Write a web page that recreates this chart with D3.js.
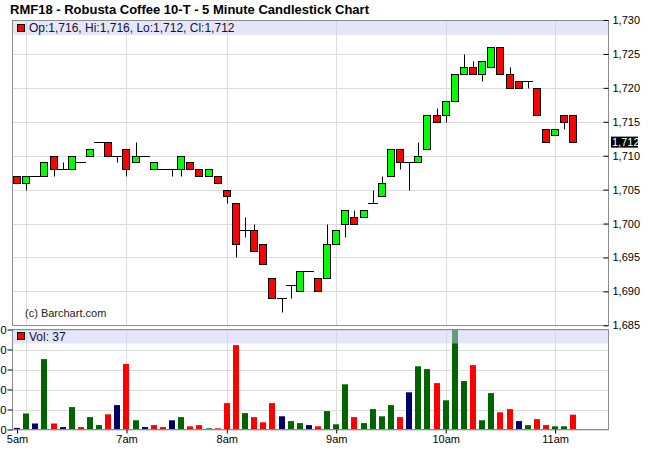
<!DOCTYPE html>
<html><head><meta charset="utf-8">
<script src="https://cdn.jsdelivr.net/npm/d3@7"></script>
<style>
body{margin:0;background:#fff;}
svg{display:block;font-family:Arial,"Liberation Sans",sans-serif;}
</style>
</head><body>
<svg id="chart" width="650" height="470"></svg>
<script>
// ---- data (5-minute bars) ----
const opens  = [1707,1706,1707,1707,1710,1708,1708,1709,1710,1712,1712,1710,1711,1709,1710,1708,1708,1708,1708,1709,1708,1707,1707,
                1705,1703,1699,1699,1697,1692,1689,1691,1690,1693,1692,1692,1697,1700,1701,1701,1703,1704,1707,1711,1709,1709,1711,
                1716,1716,1718,1722,1723,1722,1723,1726,1722,1721,1721,1720,1714,1713,1716,1716];
const highs  = [1707,1707,1707,1709,1710,1709,1710,1709,1711,1712,1712,1710,1711,1712,1710,1709,1708,1708,1710,1709,1708,1708,1707,
                1705,1703,1701,1700,1697,1692,1689,1691,1693,1693,1692,1700,1699,1702,1702,1702,1705,1707,1711,1711,1709,1712,1716,
                1717,1718,1722,1725,1724,1724,1726,1726,1723,1721,1721,1720,1714,1714,1716,1716];
const lows   = [1706,1705,1707,1707,1707,1708,1708,1709,1710,1712,1710,1709,1707,1709,1710,1708,1708,1707,1707,1708,1707,1707,1706,
                1703,1695,1698,1696,1694,1689,1687,1689,1690,1693,1690,1692,1697,1698,1700,1701,1703,1704,1707,1708,1705,1709,1711,
                1715,1715,1718,1722,1722,1721,1723,1722,1720,1720,1720,1716,1712,1713,1714,1712];
const closes = [1706,1707,1707,1709,1708,1708,1710,1709,1711,1712,1710,1710,1708,1710,1710,1709,1708,1708,1710,1708,1707,1708,1706,
                1704,1697,1699,1696,1694,1689,1689,1691,1693,1693,1690,1697,1699,1702,1700,1702,1703,1706,1711,1709,1709,1710,1716,
                1715,1718,1722,1723,1722,1724,1726,1722,1720,1720,1721,1716,1712,1714,1715,1712];
const volumes= [4,40,15,176,15,6,56,6,31,11,38,61,164,23,6,11,6,23,31,8,11,3,3,
                66,211,41,31,18,66,33,21,16,11,8,46,13,113,31,16,51,33,61,31,93,158,151,
                116,73,262,121,161,23,91,43,51,21,11,26,11,8,8,37];
const priceTicks = [1685,1690,1695,1700,1705,1710,1715,1720,1725,1730];
const volTicks = [0,50,100,150,200,250];
const timeLabels = ['5am','7am','8am','9am','10am','11am'];
const timeBars = [0,12,23,35,47,59];
const gridBars = [1,12,23,35,47,59];

// ---- layout ----
const L = 12.5, R = 608.5;
const pTop = 20.5, pBot = 325.5;
const vTop = 329.5, vBot = 429.5;
const svg = d3.select('#chart');
const n = closes.length;
const x = d3.scaleLinear().domain([-0.5, 64.8]).range([12.5, 608]);
const y = d3.scaleLinear().domain([1685, 1730]).range([325.3, 20]);
const yv = d3.scaleLinear().domain([0, 250]).range([vBot, vTop]);
const cx = i => Math.round(x(i));
const py = p => Math.round(y(p)) + 0.5;
const grid = '#dcdcdc';

// title
svg.append('text').attr('x', 10).attr('y', 14).attr('font-size', 13).attr('font-weight', 'bold')
  .attr('fill', '#000').text('RMF18 - Robusta Coffee 10-T - 5 Minute Candlestick Chart');

const defs = svg.append('defs');
defs.append('clipPath').attr('id', 'vclip').append('rect')
  .attr('x', L).attr('y', vTop).attr('width', R - L).attr('height', vBot - vTop);

// ---- price panel grid ----
const gP = svg.append('g');
gP.selectAll('line.h').data(priceTicks).join('line')
  .attr('x1', L).attr('x2', R).attr('y1', d => py(d)).attr('y2', d => py(d)).attr('stroke', grid);
gP.selectAll('line.v').data(gridBars).join('line')
  .attr('x1', d => cx(d) + 0.5).attr('x2', d => cx(d) + 0.5).attr('y1', pTop).attr('y2', pBot).attr('stroke', grid);

// ---- volume panel grid ----
const gV = svg.append('g');
gV.selectAll('line.h').data(volTicks).join('line')
  .attr('x1', L).attr('x2', R).attr('y1', d => Math.round(yv(d)) + 0.5).attr('y2', d => Math.round(yv(d)) + 0.5).attr('stroke', grid);
gV.selectAll('line.v').data(gridBars).join('line')
  .attr('x1', d => cx(d) + 0.5).attr('x2', d => cx(d) + 0.5).attr('y1', vTop).attr('y2', vBot).attr('stroke', grid);

// ---- candles ----
const bars = d3.range(n).map(i => ({i, o: opens[i], h: highs[i], l: lows[i], c: closes[i], v: volumes[i]}));
const gC = svg.append('g');
gC.selectAll('line.wick').data(bars).join('line')
  .attr('x1', d => cx(d.i) + 0.5).attr('x2', d => cx(d.i) + 0.5)
  .attr('y1', d => py(d.h)).attr('y2', d => py(d.l)).attr('stroke', '#000').attr('stroke-width', 1);
gC.selectAll('line.doji').data(bars.filter(d => d.o === d.c)).join('line')
  .attr('x1', d => cx(d.i) - 5).attr('x2', d => cx(d.i) + 5)
  .attr('y1', d => py(d.o)).attr('y2', d => py(d.o)).attr('stroke', '#000').attr('stroke-width', 1);
gC.selectAll('rect').data(bars.filter(d => d.o !== d.c)).join('rect')
  .attr('x', d => cx(d.i) - 3.5).attr('width', 7)
  .attr('y', d => py(Math.max(d.o, d.c))).attr('height', d => py(Math.min(d.o, d.c)) - py(Math.max(d.o, d.c)))
  .attr('fill', d => d.c > d.o ? '#00ff00' : '#ff0000').attr('stroke', '#000').attr('stroke-width', 1);

// ---- volume bars ----
const volColor = d => {
  if (d.i === 0) return '#000066';
  const pc = closes[d.i - 1];
  return d.c > pc ? '#006400' : (d.c < pc ? '#ff0000' : '#000066');
};
svg.append('g').attr('clip-path', 'url(#vclip)').selectAll('rect').data(bars).join('rect')
  .attr('x', d => cx(d.i) - 3).attr('width', 6)
  .attr('y', d => yv(d.v)).attr('height', d => vBot - yv(d.v))
  .attr('fill', volColor);

// ---- header bands ----
svg.append('rect').attr('x', L).attr('y', pTop).attr('width', R - L).attr('height', 14.5)
  .attr('fill', 'rgb(205,205,245)').attr('fill-opacity', 0.5);
svg.append('rect').attr('x', L).attr('y', vTop).attr('width', R - L).attr('height', 14)
  .attr('fill', 'rgb(205,205,245)').attr('fill-opacity', 0.5);
const last = bars[n - 1];
const fmt = d3.format(',');
svg.append('rect').attr('x', 17.5).attr('y', 24.5).attr('width', 7).attr('height', 7)
  .attr('fill', '#ff0000').attr('stroke', '#000');
svg.append('text').attr('x', 29).attr('y', 32).attr('font-size', 12).attr('fill', '#111133')
  .text(`Op:${fmt(last.o)}, Hi:${fmt(last.h)}, Lo:${fmt(last.l)}, Cl:${fmt(last.c)}`);
svg.append('rect').attr('x', 17.5).attr('y', 332.5).attr('width', 7).attr('height', 7)
  .attr('fill', '#ff0000').attr('stroke', '#000');
svg.append('text').attr('x', 29).attr('y', 341).attr('font-size', 12).attr('fill', '#111133')
  .text(`Vol: ${last.v}`);

// copyright
svg.append('text').attr('x', 25).attr('y', 317).attr('font-size', 11).attr('fill', '#222')
  .text('(c) Barchart.com');

// ---- panel borders ----
svg.append('rect').attr('x', L).attr('y', pTop).attr('width', R - L).attr('height', pBot - pTop)
  .attr('fill', 'none').attr('stroke', '#8c8c8c');
svg.append('rect').attr('x', L).attr('y', vTop).attr('width', R - L).attr('height', vBot - vTop)
  .attr('fill', 'none').attr('stroke', '#8c8c8c');

// ---- axes ----
const pAxis = svg.append('g').attr('transform', `translate(${R - 5},0)`)
  .call(d3.axisRight(y).tickValues(priceTicks).tickSize(5).tickPadding(4).tickFormat(fmt));
pAxis.select('.domain').remove();
pAxis.selectAll('text').attr('font-size', 11).attr('font-family', 'Arial,"Liberation Sans",sans-serif').attr('fill', '#000');
pAxis.selectAll('line').attr('stroke', '#000');

const vAxis = svg.append('g').attr('transform', `translate(${L},0)`)
  .call(d3.axisLeft(yv).tickValues(volTicks).tickSize(5).tickPadding(1));
vAxis.select('.domain').remove();
vAxis.selectAll('text').attr('font-size', 11).attr('font-family', 'Arial,"Liberation Sans",sans-serif').attr('fill', '#000');
vAxis.selectAll('line').attr('stroke', '#000');

const xAxis = svg.append('g').attr('transform', `translate(0,${vBot})`)
  .call(d3.axisBottom(d3.scaleLinear().domain(x.domain()).range(x.range()))
    .tickValues(timeBars).tickSize(4).tickPadding(2)
    .tickFormat((d, k) => timeLabels[timeBars.indexOf(d)]));
xAxis.select('.domain').remove();
xAxis.selectAll('text').attr('font-size', 11).attr('font-family', 'Arial,"Liberation Sans",sans-serif').attr('fill', '#000');
xAxis.selectAll('line').attr('stroke', '#000');

// last price marker
const lg = svg.append('g');
lg.append('rect').attr('x', 611).attr('y', y(last.c) - 5.5).attr('width', 27).attr('height', 11).attr('fill', '#000');
lg.append('text').attr('x', 612).attr('y', y(last.c) + 4).attr('font-size', 11).attr('fill', '#fff').text(fmt(last.c));
</script>
</body></html>
